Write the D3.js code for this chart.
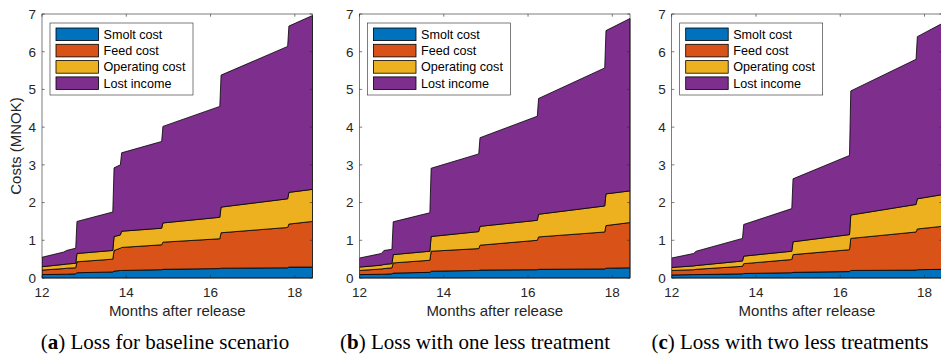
<!DOCTYPE html>
<html><head><meta charset="utf-8">
<script src="https://cdn.jsdelivr.net/npm/d3@7"></script>
<style>
html,body{margin:0;padding:0;background:#fff;}
svg{display:block;}
</style></head>
<body>
<svg id="chart" width="941" height="360"></svg>
<script>
// ---------- data ----------
const seriesNames = ["Smolt cost", "Feed cost", "Operating cost", "Lost income"];
const seriesColors = ["#0072BD", "#D95319", "#EDB120", "#7E2F8E"];
const xTicks = [12, 14, 16, 18];
const yTicks = [0, 1, 2, 3, 4, 5, 6, 7];
const captionLetters = ["a", "b", "c"];
const captionTexts = ["Loss for baseline scenario", "Loss with one less treatment", "Loss with two less treatments"];

// Panel (a) baseline
const monthsA = [12.00, 12.52, 12.58, 12.80, 12.83, 13.68, 13.71, 13.86, 13.89, 14.84, 14.87, 16.22, 16.25, 17.83, 17.86, 18.42];
const smoltA  = [0.09, 0.10, 0.10, 0.11, 0.14, 0.16, 0.18, 0.20, 0.20, 0.22, 0.23, 0.25, 0.26, 0.27, 0.29, 0.29];
const feedA   = [0.12, 0.15, 0.16, 0.16, 0.29, 0.34, 0.55, 0.59, 0.61, 0.66, 0.72, 0.79, 0.94, 1.07, 1.14, 1.21];
const operA   = [0.09, 0.11, 0.11, 0.12, 0.22, 0.23, 0.37, 0.35, 0.43, 0.44, 0.51, 0.57, 0.68, 0.76, 0.84, 0.85];
const lostA   = [0.25, 0.33, 0.36, 0.40, 0.85, 1.02, 1.82, 1.86, 2.08, 2.30, 2.56, 2.94, 3.50, 4.04, 4.41, 4.61];

// Panel (b) one less treatment
const monthsB = [12.00, 12.52, 12.58, 12.77, 12.80, 13.67, 13.70, 14.83, 14.86, 16.22, 16.25, 17.82, 17.85, 18.42];
const smoltB  = [0.09, 0.10, 0.10, 0.11, 0.13, 0.15, 0.18, 0.20, 0.21, 0.22, 0.23, 0.24, 0.26, 0.27];
const feedB   = [0.11, 0.14, 0.15, 0.16, 0.27, 0.32, 0.53, 0.58, 0.66, 0.78, 0.86, 0.98, 1.13, 1.20];
const operB   = [0.09, 0.10, 0.11, 0.11, 0.22, 0.24, 0.39, 0.45, 0.50, 0.53, 0.60, 0.69, 0.84, 0.84];
const lostB   = [0.24, 0.31, 0.37, 0.38, 0.87, 1.02, 1.81, 2.06, 2.35, 2.76, 3.07, 3.66, 4.33, 4.57];

// Panel (c) two less treatments
const monthsC = [12.00, 12.52, 12.58, 13.68, 13.71, 14.85, 14.88, 16.22, 16.25, 17.80, 17.83, 18.42];
const smoltC  = [0.08, 0.09, 0.09, 0.11, 0.12, 0.14, 0.15, 0.17, 0.20, 0.21, 0.22, 0.23];
const feedC   = [0.12, 0.13, 0.14, 0.20, 0.26, 0.35, 0.47, 0.58, 0.85, 1.01, 1.08, 1.14];
const operC   = [0.08, 0.10, 0.10, 0.14, 0.20, 0.22, 0.34, 0.40, 0.62, 0.73, 0.80, 0.84];
const lostC   = [0.25, 0.33, 0.38, 0.60, 0.84, 1.13, 1.67, 2.10, 3.29, 3.85, 4.30, 4.54];

const panels = [
  {months: monthsA, series: [smoltA, feedA, operA, lostA]},
  {months: monthsB, series: [smoltB, feedB, operB, lostB]},
  {months: monthsC, series: [smoltC, feedC, operC, lostC]}
];

// ---------- layout ----------
const panelLeft = [42, 359.5, 671.7];
const plotW = 270.5, plotTop = 14, plotBottom = 278;
const axisColor = "#262626";
const sansFont = "'Liberation Sans', Arial, Helvetica, sans-serif";
const serifFont = "'Liberation Serif', 'Times New Roman', serif";

const svg = d3.select("#chart");

panels.forEach((p, i) => {
  const x0 = panelLeft[i];
  const x = d3.scaleLinear().domain([12, 18.42]).range([x0, x0 + plotW]);
  const y = d3.scaleLinear().domain([0, 7]).range([plotBottom, plotTop]);

  const rows = p.months.map((m, k) => {
    const r = {m};
    seriesNames.forEach((n, s) => r[n] = p.series[s][k]);
    return r;
  });
  const stacked = d3.stack().keys(seriesNames)(rows);
  const area = d3.area()
    .x(d => x(d.data.m))
    .y0(d => y(d[0]))
    .y1(d => y(d[1]));

  const g = svg.append("g");
  const clipId = "clip" + i;
  svg.append("clipPath").attr("id", clipId).append("rect")
    .attr("x", x0).attr("y", plotTop - 2).attr("width", plotW + 1).attr("height", plotBottom - plotTop + 3);
  g.append("g").attr("clip-path", `url(#${clipId})`)
    .selectAll("path").data(stacked).join("path")
    .attr("d", area)
    .attr("fill", (d, s) => seriesColors[s])
    .attr("stroke", "#000")
    .attr("stroke-width", 0.8)
    .attr("stroke-linejoin", "round");

  // axes box
  const ax = svg.append("g").attr("font-family", sansFont).attr("fill", axisColor);
  const tl = 2.7;
  ax.append("rect").attr("x", x0).attr("y", plotTop).attr("width", plotW).attr("height", plotBottom - plotTop)
    .attr("fill", "none").attr("stroke", axisColor).attr("stroke-width", 0.6);
  xTicks.forEach(t => {
    const px = x(t);
    ax.append("line").attr("x1", px).attr("x2", px).attr("y1", plotBottom).attr("y2", plotBottom - tl)
      .attr("stroke", axisColor).attr("stroke-width", 0.6);
    ax.append("line").attr("x1", px).attr("x2", px).attr("y1", plotTop).attr("y2", plotTop + tl)
      .attr("stroke", axisColor).attr("stroke-width", 0.6);
    ax.append("text").attr("x", px).attr("y", 297).attr("text-anchor", "middle")
      .attr("font-size", 13.5).text(t);
  });
  yTicks.forEach(t => {
    const py = y(t);
    ax.append("line").attr("x1", x0).attr("x2", x0 + tl).attr("y1", py).attr("y2", py)
      .attr("stroke", axisColor).attr("stroke-width", 0.6);
    ax.append("line").attr("x1", x0 + plotW).attr("x2", x0 + plotW - tl).attr("y1", py).attr("y2", py)
      .attr("stroke", axisColor).attr("stroke-width", 0.6);
    ax.append("text").attr("x", x0 - 6).attr("y", py + 4.8).attr("text-anchor", "end")
      .attr("font-size", 13.5).text(t);
  });
  ax.append("text").attr("x", x0 + plotW / 2).attr("y", 316).attr("text-anchor", "middle")
    .attr("font-size", 15).text("Months after release");

  if (i === 0) {
    ax.append("text").attr("transform", `translate(20.5,${(plotTop + plotBottom) / 2}) rotate(-90)`)
      .attr("text-anchor", "middle").attr("font-size", 15).text("Costs (MNOK)");
  }

  // legend
  const lg = svg.append("g").attr("font-family", sansFont);
  const lx = x0 + 8, ly = 23;
  lg.append("rect").attr("x", lx).attr("y", ly).attr("width", 143).attr("height", 72)
    .attr("fill", "#fff").attr("stroke", axisColor).attr("stroke-width", 0.6);
  seriesNames.forEach((n, s) => {
    const cy = ly + 11.3 + s * 16.3;
    lg.append("rect").attr("x", lx + 6).attr("y", cy - 6.3).attr("width", 42.5).attr("height", 12.6)
      .attr("fill", seriesColors[s]).attr("stroke", "#000").attr("stroke-width", 0.8);
    lg.append("text").attr("x", lx + 53.5).attr("y", cy + 4.5).attr("font-size", 12.6)
      .attr("fill", "#000").text(n);
  });

  // caption
  const cap = svg.append("text").attr("font-family", serifFont).attr("font-size", 21)
    .attr("x", [165, 475, 790][i]).attr("y", 349).attr("text-anchor", "middle").attr("fill", "#000");
  cap.append("tspan").text("(");
  cap.append("tspan").attr("font-weight", "bold").text(captionLetters[i]);
  cap.append("tspan").text(") " + captionTexts[i]);
});
</script>
</body></html>
